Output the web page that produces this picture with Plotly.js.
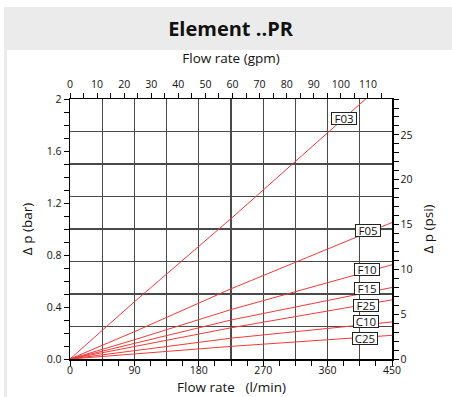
<!DOCTYPE html>
<html>
<head>
<meta charset="utf-8">
<script src="https://cdn.plot.ly/plotly-3.0.1.min.js"></script>
<style>
  html, body { margin: 0; padding: 0; background: #ffffff; }
  #chart { width: 452px; height: 397px; }
</style>
</head>
<body>
<div id="chart"></div>
<script>
// ---- data ----
const flowLpm = [0, 90, 225, 450];           // flow rate, l/min
const seriesNames = ['F03', 'F05', 'F10', 'F15', 'F25', 'C10', 'C25'];
const F03 = [0, 0.44, 1.08, 2.18];            // pressure drop, bar
const F05 = [0, 0.21, 0.54, 1.05];
const F10 = [0, 0.148, 0.38, 0.725];
const F15 = [0, 0.12, 0.30, 0.55];
const F25 = [0, 0.096, 0.24, 0.455];
const C10 = [0, 0.065, 0.16, 0.285];
const C25 = [0, 0.04, 0.097, 0.182];
const seriesValues = [F03, F05, F10, F15, F25, C10, C25];

const xTickVals = [0, 90, 180, 270, 360, 450];
const xTickLabels = ['0', '90', '180', '270', '360', '450'];
const yTickVals = [0, 0.4, 0.8, 1.2, 1.6, 2];
const yTickLabels = ['0.0', '0.4', '0.8', '1.2', '1.6', '2'];
const gpmTickVals = [0, 10, 20, 30, 40, 50, 60, 70, 80, 90, 100, 110];
const gpmTickLabels = ['0', '10', '20', '30', '40', '50', '60', '70', '80', '90', '100', '110'];
const psiTickVals = [0, 5, 10, 15, 20, 25];
const psiTickLabels = ['0', '5', '10', '15', '20', '25'];

// unit conversions
const LPM_PER_GPM = 3.78541;
const PSI_PER_BAR = 14.5038;
const xMax = 450, yMax = 2;

// ---- helpers for tick arrays (labels only at the labelled values) ----
function tickArrays(max, step, labVals, labTexts) {
  const vals = [], texts = [];
  const n = Math.round(max / step);
  for (let i = 0; i <= n; i++) {
    const v = +(i * step).toFixed(6);
    if (v > max + 1e-9) break;
    vals.push(v);
    const k = labVals.findIndex(l => Math.abs(l - v) < 1e-6);
    texts.push(k >= 0 ? labTexts[k] : '');
  }
  return { vals, texts };
}
const xT = tickArrays(xMax, 22.5, xTickVals, xTickLabels);
const yT = tickArrays(yMax, 0.1, yTickVals, yTickLabels);
const gT = tickArrays(118, 5, gpmTickVals, gpmTickLabels);
const pT = tickArrays(29, 1, psiTickVals, psiTickLabels);

const FONT = 'Open Sans, Noto Sans, sans-serif';

const traces = seriesNames.map((name, i) => ({
  x: flowLpm, y: seriesValues[i], name: name,
  type: 'scatter', mode: 'lines',
  line: { color: '#f23a3a', width: 1 },
  hoverinfo: 'skip', showlegend: false,
  xaxis: 'x', yaxis: 'y'
}));

// label boxes (placement only)
const labelPlaces = [[383.6, 1.85], [415.8, 0.986], [415.5, 0.69], [415, 0.54], [414, 0.413], [413, 0.288], [412, 0.155]];
const annotations = seriesNames.map((name, i) => ({
  x: labelPlaces[i][0], y: labelPlaces[i][1], xref: 'x', yref: 'y',
  text: name, showarrow: false,
  font: { family: FONT, size: 11.5, color: '#111' },
  width: 24, height: 11, align: 'center', valign: 'middle',
  bgcolor: '#ffffff', bordercolor: '#222', borderwidth: 1, borderpad: 0
}));
// bottom axis title placed in the bottom margin
annotations.push({
  xref: 'paper', yref: 'paper', x: 0.5, y: (359 - 387) / 260,
  xanchor: 'center', yanchor: 'middle', showarrow: false, borderpad: 0,
  text: 'Flow rate   (l/min)', font: { family: FONT, size: 13.5, color: '#111' }
});

const axisBase = {
  showline: true, linecolor: '#000', linewidth: 1.5,
  ticks: 'outside', ticklen: 5, tickcolor: '#000', tickwidth: 1,
  tickfont: { family: FONT, size: 10.5, color: '#111' },
  zeroline: false, showgrid: false, fixedrange: true
};

const GRID = { showgrid: true, gridcolor: '#4a4a4a', gridwidth: 1.2 };

const layout = {
  width: 452, height: 397,
  margin: { l: 70, r: 60, t: 99, b: 38 },
  paper_bgcolor: 'rgba(0,0,0,0)', plot_bgcolor: '#ffffff',
  font: { family: FONT, color: '#111' },
  title: {
    text: '<b>Element ..PR</b>',
    font: { family: FONT, size: 20, color: '#111' },
    xref: 'container', x: 0.51, yref: 'container', y: 1 - 29 / 397,
    xanchor: 'center', yanchor: 'middle'
  },
  xaxis: Object.assign({}, axisBase, {
    range: [0, xMax], tickmode: 'array', tickvals: xT.vals, ticktext: xT.texts,
    ticklabelstandoff: -4,
    automargin: false
  }),
  xaxis3: Object.assign({
    overlaying: 'x', range: [0, xMax], tickmode: 'linear', tick0: 0, dtick: 45,
    showticklabels: false, ticks: '', showline: false, zeroline: false, fixedrange: true
  }, GRID),
  xaxis2: Object.assign({}, axisBase, {
    overlaying: 'x', side: 'top', anchor: 'y',
    range: [0, xMax / LPM_PER_GPM], tickmode: 'array', tickvals: gT.vals, ticktext: gT.texts,
    title: { text: 'Flow rate (gpm)', font: { family: FONT, size: 13.5, color: '#111' }, standoff: 10 },
    automargin: false
  }),
  yaxis: Object.assign({}, axisBase, {
    range: [0, yMax], tickmode: 'array', tickvals: yT.vals, ticktext: yT.texts,
    title: { text: 'Δ p (bar)', font: { family: FONT, size: 13.5, color: '#111' }, standoff: 11 },
    automargin: false
  }),
  yaxis3: Object.assign({
    overlaying: 'y', range: [0, yMax], tickmode: 'linear', tick0: 0, dtick: 0.25,
    showticklabels: false, ticks: '', showline: false, zeroline: false, fixedrange: true
  }, GRID),
  yaxis2: Object.assign({}, axisBase, {
    overlaying: 'y', side: 'right', anchor: 'x',
    range: [0, yMax * PSI_PER_BAR], tickmode: 'array', tickvals: pT.vals, ticktext: pT.texts,
    title: { text: 'Δ p (psi)', font: { family: FONT, size: 13.5, color: '#111' }, standoff: 12 },
    automargin: false
  }),
  shapes: [
    // grey header band and left strip (paper coords from margins)
    { type: 'rect', xref: 'paper', yref: 'paper', layer: 'below',
      x0: (4 - 70) / 322, x1: (452 - 70) / 322, y0: (359 - 50) / 260, y1: (359 - 7) / 260,
      fillcolor: '#ebebeb', line: { width: 0 } },
    { type: 'rect', xref: 'paper', yref: 'paper', layer: 'below',
      x0: (4 - 70) / 322, x1: (7 - 70) / 322, y0: (359 - 397) / 260, y1: (359 - 50) / 260,
      fillcolor: '#ebebeb', line: { width: 0 } }
  ],
  annotations: annotations,
  showlegend: false
};

// invisible traces to activate overlay axes
const helpers = [
  { x: [0], y: [0], xaxis: 'x3', yaxis: 'y3', mode: 'markers', marker: { opacity: 0 }, hoverinfo: 'skip', showlegend: false },
  { x: [0], y: [0], xaxis: 'x2', yaxis: 'y', mode: 'markers', marker: { opacity: 0 }, hoverinfo: 'skip', showlegend: false },
  { x: [0], y: [0], xaxis: 'x', yaxis: 'y2', mode: 'markers', marker: { opacity: 0 }, hoverinfo: 'skip', showlegend: false }
];

Plotly.newPlot('chart', helpers.concat(traces), layout, { staticPlot: true, displayModeBar: false });
</script>
</body>
</html>
